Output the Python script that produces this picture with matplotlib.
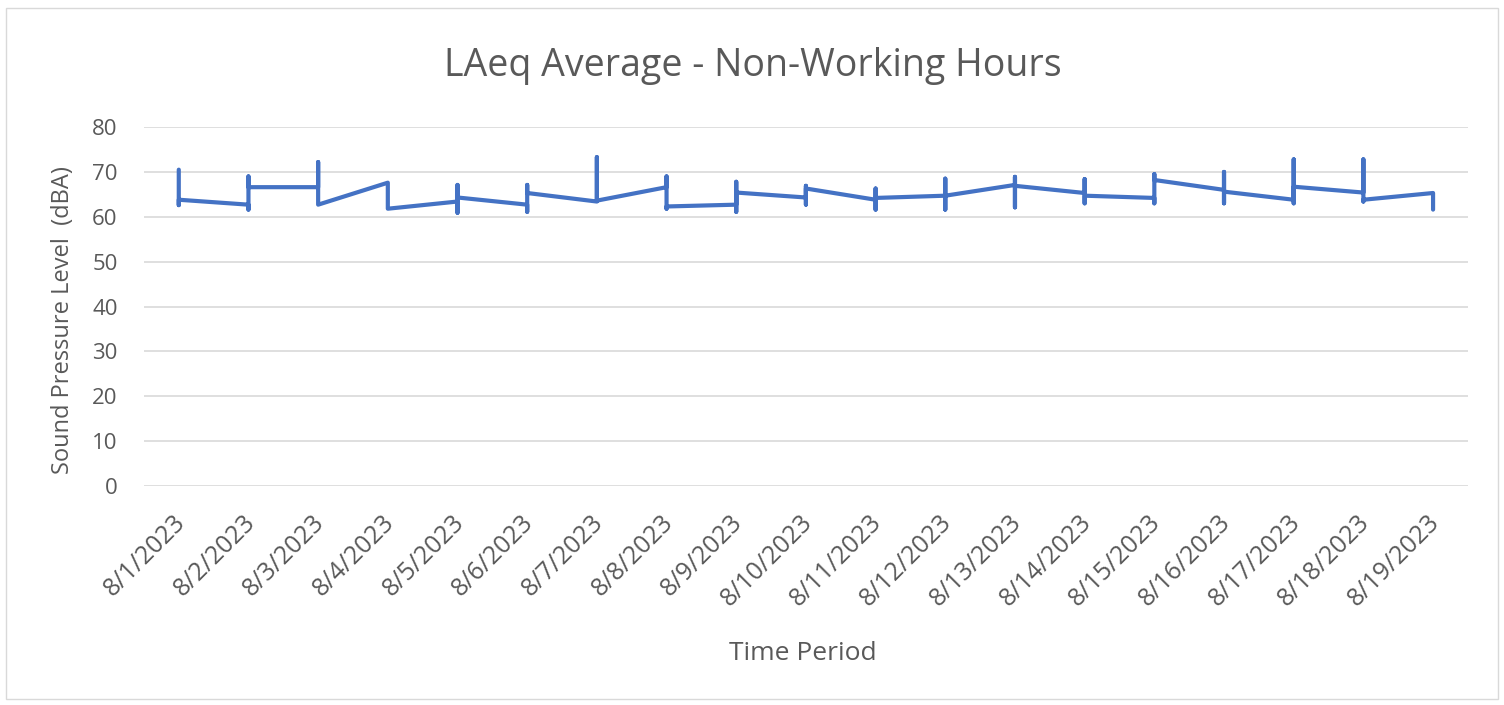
import numpy as np
import matplotlib.pyplot as plt
import matplotlib.transforms as mtransforms
from matplotlib.patches import Rectangle

# LAeq readings (dBA) for each day, in the order the line visits them
dates = ["8/1/2023", "8/2/2023", "8/3/2023", "8/4/2023", "8/5/2023", "8/6/2023",
         "8/7/2023", "8/8/2023", "8/9/2023", "8/10/2023", "8/11/2023", "8/12/2023",
         "8/13/2023", "8/14/2023", "8/15/2023", "8/16/2023", "8/17/2023", "8/18/2023",
         "8/19/2023"]
day_readings = [
    [70.5, 62.6, 63.8],
    [62.7, 61.6, 69.0, 66.6],
    [66.6, 72.2, 62.7],
    [67.6, 61.8],
    [63.4, 67.1, 60.9, 64.3],
    [62.7, 61.1, 67.1, 65.3],
    [63.4, 73.3, 63.6],
    [66.6, 69.0, 61.8, 62.3],
    [62.7, 67.8, 61.1, 65.4],
    [64.3, 66.9, 62.7, 66.3],
    [63.8, 66.3, 61.6, 64.2],
    [64.7, 68.5, 61.6, 64.7],
    [67.1, 68.9, 62.1, 66.9],
    [65.3, 68.4, 63.0, 64.7],
    [64.2, 63.0, 69.5, 68.2],
    [66.0, 70.0, 63.0, 65.6],
    [63.8, 72.8, 63.0, 66.7],
    [65.4, 72.8, 63.4, 63.8],
    [65.3, 61.6],
]
yticks = [0, 10, 20, 30, 40, 50, 60, 70, 80]

# flatten into one series, several points share the same date
x = []
y = []
for i, vals in enumerate(day_readings):
    x += [i] * len(vals)
    y += vals

plt.rcParams['font.family'] = ['Open Sans', 'DejaVu Sans']
grey = '#595959'

fig = plt.figure(figsize=(15.04, 7.05), dpi=100)
ax = fig.add_axes([0.0957, 0.3106, 0.8803, 0.5092])

ax.plot(x, y, color='#4472C4', linewidth=3.0, solid_capstyle='round', zorder=3)

ax.set_xlim(-0.5, len(dates) - 0.5)
ax.set_ylim(0, 80)
ax.set_yticks(yticks)
ax.set_xticks(range(len(dates)))
ax.set_xticklabels(dates, rotation=45, ha='right', rotation_mode='anchor')
ax.tick_params(axis='both', length=0, colors=grey)
ax.tick_params(axis='y', pad=19, labelsize=16)
ax.tick_params(axis='x', pad=17, labelsize=18)
# nudge the date labels a little to the left
shift = mtransforms.ScaledTranslation(-6 / 100, 0, fig.dpi_scale_trans)
for lbl in ax.get_xticklabels():
    lbl.set_transform(lbl.get_transform() + shift)
ax.grid(axis='y', color='#d9d9d9', linewidth=1.2)
ax.set_axisbelow(True)
for s in ax.spines.values():
    s.set_visible(False)

# titles placed on the chart area, like the spreadsheet does
fig.text(753 / 1504, 1 - 76 / 705, "LAeq Average - Non-Working Hours", fontsize=27,
         color=grey, ha='center', va='baseline')
fig.text(803 / 1504, 1 - 660 / 705, "Time Period", fontsize=19, color=grey,
         ha='center', va='baseline')
fig.text(63 / 1504, 1 - 320 / 705, "Sound Pressure Level  (dBA)", fontsize=17, color=grey,
         ha='center', va='center', rotation=90)

# chart area border
fig.patches.append(Rectangle((0.004, 0.008), 0.992, 0.98, transform=fig.transFigure,
                             fill=False, edgecolor='#d9d9d9', linewidth=1))

fig.savefig("out.png", dpi=100)
